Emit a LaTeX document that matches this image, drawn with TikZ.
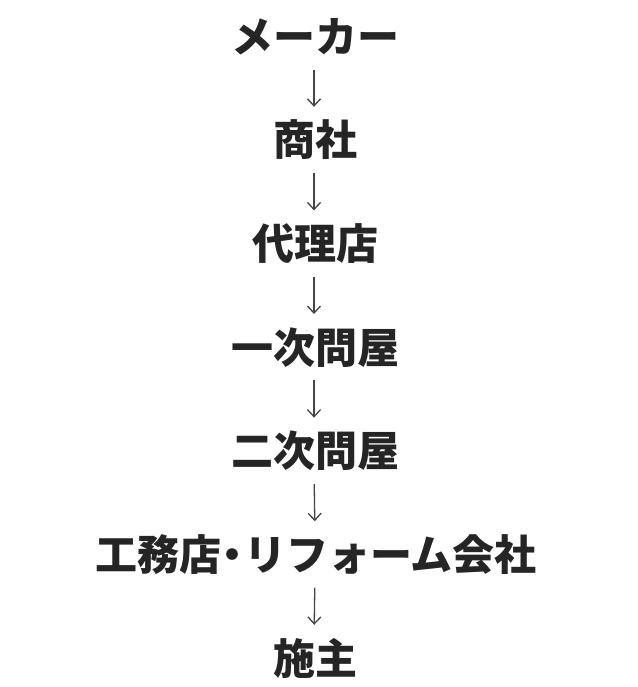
\documentclass[tikz,border=0pt]{standalone}
\usepackage{fontspec}
\newfontfamily\cjk{Noto Sans CJK JP Black}
\usetikzlibrary{arrows.meta}
\definecolor{txt}{HTML}{252525}
\definecolor{arrc}{HTML}{444444}
\begin{document}
\begin{tikzpicture}[x=1pt,y=1pt,
  lab/.style={inner sep=0pt, anchor=base, text height=34pt, text depth=3pt,
    font=\cjk\fontsize{42pt}{46pt}\selectfont, text=txt},
  arr/.style={draw=arrc, line width=1.3pt, -{Straight Barb[length=7pt,width=13pt,line width=1.3pt]},
    shorten <=14pt, shorten >=15pt}]
\fill[white] (0,0) rectangle (637,-687);
\useasboundingbox (0,0) rectangle (637,-687);
\node[lab] (n1) at (315,-53) {メーカー};
\node[lab] (n2) at (315,-156) {商社};
\node[lab] (n3) at (315,-259.6) {代理店};
\node[lab] (n4) at (315,-363.2) {一次問屋};
\node[lab] (n5) at (315,-466.8) {二次問屋};
\node[lab] (n6) at (316,-570.4) {工務店\makebox[0.55em][c]{・}リフォーム会社};
\node[lab] (n7) at (315,-674) {施主};
\foreach \a/\b in {n1/n2,n2/n3,n3/n4,n4/n5,n5/n6,n6/n7}
  \draw[arr] ([xshift=-1pt]\a.south) -- ([xshift=-1pt]\b.north);
\end{tikzpicture}
\end{document}
